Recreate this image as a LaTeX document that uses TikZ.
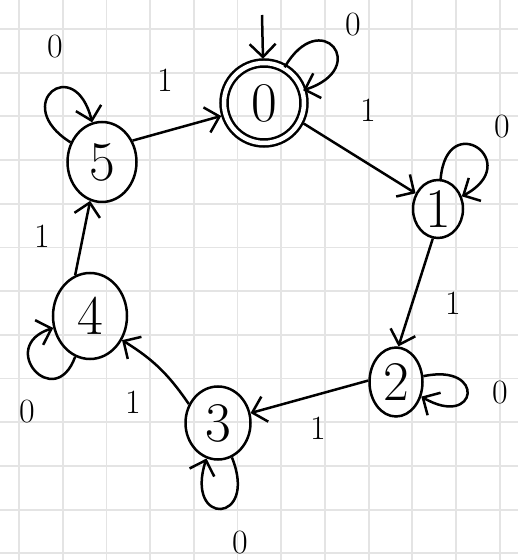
\documentclass[tikz,border=0pt]{standalone}
\usepackage{tikz}
\usetikzlibrary{arrows.meta,automata,shapes.geometric,positioning}
\definecolor{ink}{RGB}{0,0,0}
\definecolor{gridgrey}{RGB}{228,228,228}
\tikzset{
  st/.style={draw=ink,ellipse,line width=2.5pt,inner sep=0pt,
             font=\fontsize{56}{56}\selectfont},
  stacc/.style={st,double,double distance=4.5pt},
  flow/.style={-{Straight Barb[length=13pt,width=26pt,line width=2.5pt]},
               line width=2.5pt,draw=ink},
  lbl/.style={font=\fontsize{34}{34}\selectfont,inner sep=1pt},
}
\begin{document}
\begin{tikzpicture}[x=1pt,y=1pt]
  \fill[white] (0,0) rectangle (518,560);
  \useasboundingbox (0,0) rectangle (518,560);
  % grid paper
  \foreach \k in {0,...,11}
    \draw[gridgrey,line width=1.8pt] ({19+43.7*\k},0) -- ({19+43.7*\k},560);
  \foreach \k in {0,...,12}
    \draw[gridgrey,line width=1.8pt] (0,{531-43.7*\k}) -- (518,{531-43.7*\k});

  \node[stacc,minimum width=80pt,minimum height=80pt] (q0) at (264,457) {0};
  \node[st,minimum width=50pt,minimum height=58pt] (q1) at (438,351) {1};
  \node[st,minimum width=53pt,minimum height=69pt] (q2) at (396,178) {2};
  \node[st,minimum width=65pt,minimum height=73pt] (q3) at (218,137) {3};
  \node[st,minimum width=74pt,minimum height=86pt] (q4) at (90,244) {4};
  \node[st,minimum width=69pt,minimum height=80pt] (q5) at (102,398) {5};
  \coordinate (start) at (262,545);

  \draw[flow,shorten >=3pt] (start) -- (q0);
  \draw[flow,shorten >=3.5pt] (q5.35) -- (q0.197);
  \draw[flow,shorten <=3.5pt] (q0.-27) -- (q1.145);
  \draw[flow] (q1.-100) -- (q2.86);
  \draw[flow] (q2.177) -- (q3.17);
  \draw[flow] (q3.147) to[bend right=12] (q4.-37);
  \draw[flow] (q4.110) -- (q5.-107);

  % self loops
  \draw[flow] (q0) to[out=60,in=18,distance=72pt] (q0);
  \draw[flow] (q1) to[out=85,in=28,distance=72pt] (q1);
  \draw[flow] (q2) to[out=12,in=-30,distance=65pt] (q2);
  \draw[flow] (q3) to[out=-68,in=-108,distance=72pt] (q3);
  \draw[flow] (q4) to[out=-110,in=-162,distance=60pt] (q4);
  \draw[flow] (q5) to[out=148,in=104,distance=72pt] (q5);

  % labels
  \node[lbl] (l50) at (165,480) {1};
  \node[lbl] (l01) at (368,450) {1};
  \node[lbl] (l12) at (453,257) {1};
  \node[lbl] (l23) at (318,132) {1};
  \node[lbl] (l34) at (133,158) {1};
  \node[lbl] (l45) at (42,324) {1};
  \node[lbl] (l00) at (353,535) {0};
  \node[lbl] (l11) at (502,433) {0};
  \node[lbl] (l22) at (500,167) {0};
  \node[lbl] (l33) at (240,17) {0};
  \node[lbl] (l44) at (27,148) {0};
  \node[lbl] (l55) at (55,513) {0};
\end{tikzpicture}
\end{document}
